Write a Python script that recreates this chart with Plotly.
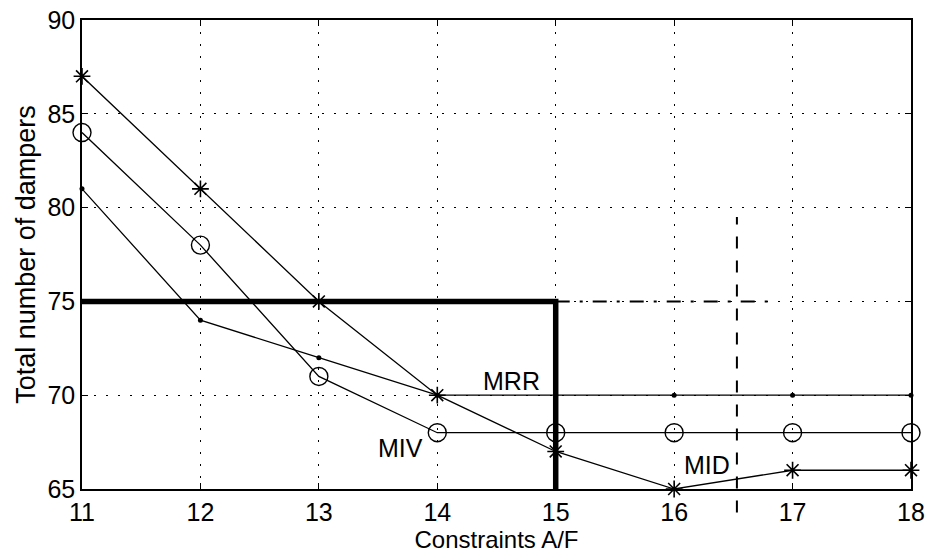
import plotly.graph_objects as go

x = [11, 12, 13, 14, 15, 16, 17, 18]
mid = [87, 81, 75, 70, 67, 65, 66, 66]
miv = [84, 78, 71, 68, 68, 68, 68, 68]
mrr = [81, 74, 72, 70, 70, 70, 70, 70]

thick_x = [11, 15, 15]
thick_y = [75, 75, 65]
dashdot_x = [15, 16.8]
dashdot_y = [75, 75]
dash_x = 16.53
dash_top = 79.5

labels = [("MRR", 14.63, 70.75), ("MIV", 13.69, 67.2), ("MID", 16.28, 66.3)]

FONT = "Liberation Sans, Arial, sans-serif"

fig = go.Figure()
fig.add_trace(go.Scatter(x=thick_x, y=thick_y, mode="lines",
                         line=dict(color="black", width=5.5), showlegend=False))
fig.add_trace(go.Scatter(x=dashdot_x, y=dashdot_y, mode="lines",
                         line=dict(color="black", width=2, dash="14px,10px,3px,10px"), showlegend=False))
fig.add_trace(go.Scatter(x=x, y=mrr, mode="lines+markers",
                         line=dict(color="black", width=1.3),
                         marker=dict(symbol="circle", size=5, color="black"),
                         showlegend=False, cliponaxis=False))
fig.add_trace(go.Scatter(x=x, y=miv, mode="lines+markers",
                         line=dict(color="black", width=1.3),
                         marker=dict(symbol="circle-open", size=18, color="black", line=dict(width=1.4)),
                         showlegend=False, cliponaxis=False))
fig.add_trace(go.Scatter(x=x, y=mid, mode="lines+markers",
                         line=dict(color="black", width=1.3),
                         marker=dict(symbol="asterisk-open", size=14, color="black", line=dict(width=1.6, color="black")),
                         showlegend=False, cliponaxis=False))

fig.add_shape(type="line", xref="x", yref="paper", x0=dash_x, x1=dash_x,
              y0=-0.05, y1=(dash_top - 65) / 25,
              line=dict(color="black", width=2, dash="12px,12px"))

for t, lx, ly in labels:
    fig.add_annotation(x=lx, y=ly, text=t, showarrow=False,
                       font=dict(family=FONT, size=25, color="black"))

axis_common = dict(showgrid=True, gridcolor="black", griddash="2px,10px", gridwidth=1,
                   showline=True, linecolor="black", linewidth=1.5, mirror="ticks",
                   ticks="inside", ticklen=6, tickcolor="black", zeroline=False,
                   automargin=False,
                   tickfont=dict(family=FONT, size=25, color="black"))

fig.update_xaxes(range=[11, 18], tickvals=x, title=dict(text="Constraints A/F",
                 font=dict(family=FONT, size=24, color="black"), standoff=5), **axis_common)
fig.update_yaxes(range=[65, 90], tickvals=[65, 70, 75, 80, 85, 90],
                 title=dict(text="Total number of dampers",
                            font=dict(family=FONT, size=27, color="black"), standoff=4),
                 **axis_common)

fig.update_layout(width=926, height=560, margin=dict(l=82, r=15, t=20, b=71),
                  plot_bgcolor="white", paper_bgcolor="white", showlegend=False)

fig.write_html("out.html")
